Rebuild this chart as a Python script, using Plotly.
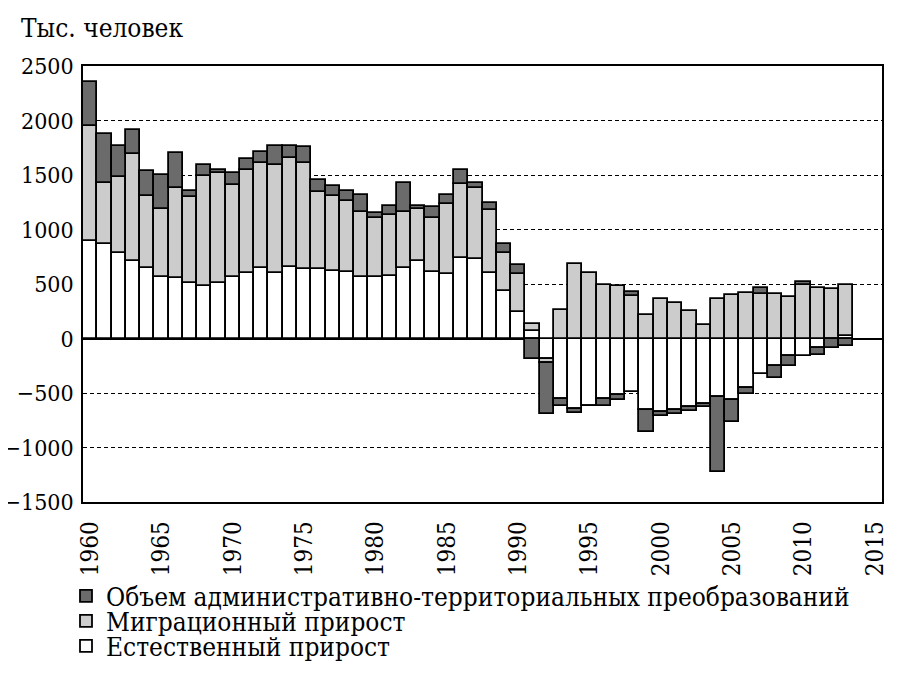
import plotly.graph_objects as go

years = list(range(1960, 2014))

natural = [890, 870, 785, 710, 645, 565, 555, 505, 485, 505,
           560, 605, 645, 605, 660, 640, 640, 620, 610, 560,
           560, 575, 650, 715, 610, 595, 740, 730, 605, 435,
           245, 65, -190, -555, -645, -615, -555, -515, -495, -655,
           -675, -655, -630, -605, -535, -560, -455, -325, -250, -165,
           -160, -85, -3, 24]

migration = [1060, 555, 695, 980, 665, 625, 825, 790, 1005, 1010,
             850, 945, 965, 985, 1000, 970, 700, 690, 650, 600,
             545, 560, 510, 470, 500, 635, 675, 650, 575, 350,
             345, 70, -35, 260, 685, 605, 495, 480, 390, 220,
             365, 330, 255, 120, 365, 395, 420, 405, 410, 385,
             495, 465, 455, 470]

admin = [400, 450, 285, 225, 225, 310, 320, 55, 100, 35,
         110, 100, 105, 175, 105, 145, 110, 85, 95, 155,
         50, 85, 265, 30, 95, 85, 130, 45, 65, 80,
         80, -185, -470, -65, -35, -5, -60, -45, 35, -205,
         -40, -35, -35, -20, -690, -210, -55, 55, -115, -90,
         20, -65, -87, -70]

x_ticks = list(range(1960, 2016, 5))
y_ticks = [-1500, -1000, -500, 0, 500, 1000, 1500, 2000, 2500]
y_ticktext = ["\u22121500", "\u22121000", "\u2212500", "0", "500", "1000", "1500", "2000", "2500"]

name_nat = "Естественный прирост"
name_mig = "Миграционный прирост"
name_adm = "Объем административно-территориальных преобразований"
y_title = "Тыс. человек"

FONT = "DejaVu Serif Condensed, DejaVu Serif"

fig = go.Figure()
line = dict(color="black", width=1.8)
fig.add_trace(go.Bar(x=years, y=natural, name=name_nat, width=1,
                     marker=dict(color="white", line=line), legend="legend3"))
fig.add_trace(go.Bar(x=years, y=migration, name=name_mig, width=1,
                     marker=dict(color="#cccccc", line=line), legend="legend2"))
fig.add_trace(go.Bar(x=years, y=admin, name=name_adm, width=1,
                     marker=dict(color="#6b6b6b", line=line), legend="legend"))

# page offset of 8px (browser body margin)
OFF = 8
W, H = 908 - OFF, 686 - OFF
PL, PR, PT, PB = 83, 882, 66, 502   # plot area in page pixels
L, T = PL - OFF, PT - OFF
R = W - (PR - OFF)
B = H - (PB - OFF)
pw = PR - PL
ph = PB - PT

def px_x(px):
    return (px - PL) / pw

def px_y(py):
    return (PB - py) / ph

leg_common = dict(xanchor="left", yanchor="middle", bgcolor="rgba(0,0,0,0)",
                  borderwidth=0, font=dict(family=FONT, size=26, color="black"))

fig.update_layout(
    width=W, height=H, autosize=False,
    margin=dict(l=L, r=R, t=T, b=B, autoexpand=False),
    paper_bgcolor="white", plot_bgcolor="white",
    barmode="relative", bargap=0, showlegend=True,
    font=dict(family=FONT, size=24, color="black"),
    legend=dict(x=px_x(66), y=px_y(596), **leg_common),
    legend2=dict(x=px_x(66), y=px_y(621), **leg_common),
    legend3=dict(x=px_x(66), y=px_y(646), **leg_common),
    xaxis=dict(range=[1959.5, 2015.5], tickvals=x_ticks, tickangle=-90,
               showgrid=False, zeroline=False, showline=True, mirror=True,
               linecolor="black", linewidth=1.5, ticks="", automargin=False,
               ticklabelstandoff=8,
               tickfont=dict(family=FONT, size=24, color="black")),
    yaxis=dict(range=[-1500, 2500], tickvals=y_ticks, ticktext=y_ticktext,
               showgrid=True, gridcolor="black", gridwidth=1, griddash="4px,3px",
               zeroline=True, zerolinecolor="black", zerolinewidth=1.5,
               showline=True, mirror=True, linecolor="black", linewidth=1.5,
               ticks="", ticklabelstandoff=3, automargin=False,
               tickfont=dict(family=FONT, size=23, color="black")),
    annotations=[dict(text=y_title, xref="paper", yref="paper",
                      x=px_x(19), y=px_y(28), xanchor="left", yanchor="middle",
                      showarrow=False, font=dict(family=FONT, size=26, color="black"))],
)

fig.write_html("out.html")
